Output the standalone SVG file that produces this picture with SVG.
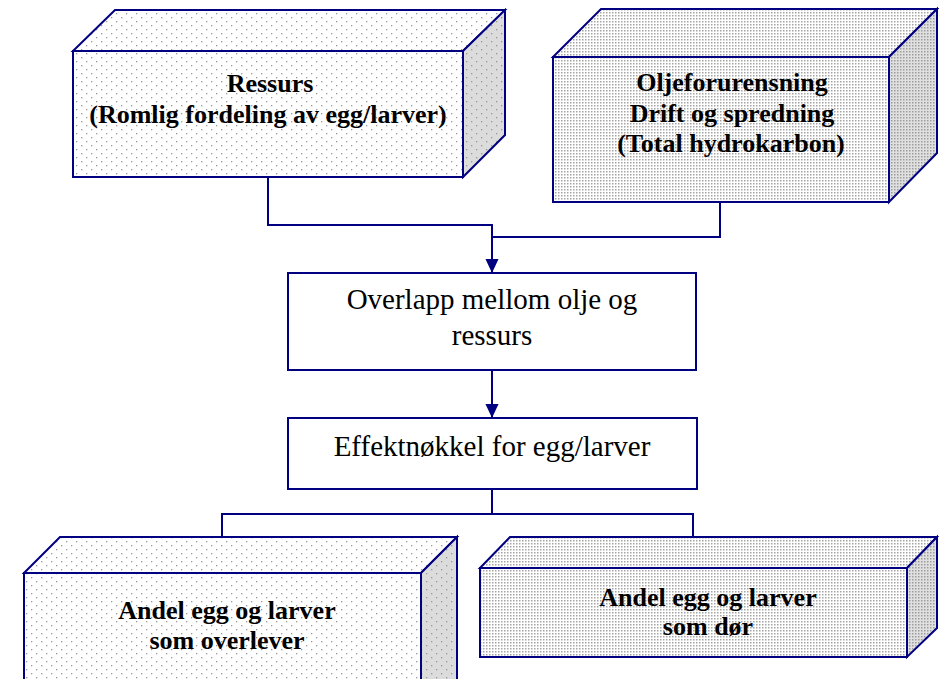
<svg xmlns="http://www.w3.org/2000/svg" width="939" height="679" viewBox="0 0 939 679">
<style>
.edge{fill:none;stroke:#000080;stroke-width:2}
.box{stroke:#000080;stroke-width:2;stroke-linejoin:miter}
.bt{font-family:"Liberation Serif","Times New Roman",serif;font-weight:bold;font-size:26px;fill:#000;text-anchor:middle}
.rt{font-family:"Liberation Serif","Times New Roman",serif;font-size:29px;fill:#000;text-anchor:middle}
</style>
<defs>
<pattern id="sparse" width="10" height="8" patternUnits="userSpaceOnUse">
<rect width="10" height="8" fill="#fff"/>
<rect x="1" y="1" width="1.3" height="1.3" fill="#999"/>
<rect x="6" y="5" width="1.3" height="1.3" fill="#999"/>
</pattern>
<pattern id="sparseSide" width="10" height="8" patternUnits="userSpaceOnUse">
<rect width="10" height="8" fill="#dcdcdc"/>
<rect x="1" y="1" width="1.3" height="1.3" fill="#999"/>
<rect x="6" y="5" width="1.3" height="1.3" fill="#999"/>
</pattern>
<pattern id="dense" width="3" height="3" patternUnits="userSpaceOnUse">
<rect width="3" height="3" fill="#fff"/>
<rect x="0" y="0" width="1.5" height="1.5" fill="#a4a4a4"/>
</pattern>
<pattern id="denseSide" width="3" height="3" patternUnits="userSpaceOnUse">
<rect width="3" height="3" fill="#e0e0e0"/>
<rect x="0" y="0" width="1.5" height="1.5" fill="#9c9c9c"/>
</pattern>
<marker id="ah" markerWidth="14" markerHeight="15" refX="15" refY="7" orient="auto" markerUnits="userSpaceOnUse" viewBox="0 0 15 14">
<path d="M0,0 L15,7 L0,14 Z" fill="#000080"/>
</marker>
</defs>

<g id="connectors">
<path class="edge" d="M268,178 V225 H492 V273" marker-end="url(#ah)"/>
<path class="edge" d="M720,202 V237 H492"/>
<path class="edge" d="M492,370 V418" marker-end="url(#ah)"/>
<path class="edge" d="M492,489 V514 H222 V573" marker-end="url(#ah)"/>
<path class="edge" d="M492,514 H693 V568" marker-end="url(#ah)"/>
</g>

<g id="ressurs">
<polygon class="box" points="73,51 115,10 505,10 463,51" fill="url(#sparse)"/>
<polygon class="box" points="463,51 505,10 505,135 463,177" fill="url(#sparseSide)"/>
<rect class="box" x="73" y="51" width="390" height="126" fill="url(#sparse)"/>
<text class="bt" x="270" y="92">Ressurs</text>
<text class="bt" x="268" y="123">(Romlig fordeling av egg/larver)</text>
</g>

<g id="olje">
<polygon class="box" points="553,57 601,9 937,9 889,57" fill="url(#dense)"/>
<polygon class="box" points="889,57 937,9 937,153 889,202" fill="url(#denseSide)"/>
<rect class="box" x="553" y="57" width="336" height="145" fill="url(#dense)"/>
<text class="bt" x="732" y="91">Oljeforurensning</text>
<text class="bt" x="732" y="122">Drift og spredning</text>
<text class="bt" x="731" y="152">(Total hydrokarbon)</text>
</g>

<g id="overlapp">
<rect class="box" x="288" y="273" width="408" height="97" fill="#fff"/>
<text class="rt" x="492" y="309">Overlapp mellom olje og</text>
<text class="rt" x="492" y="345">ressurs</text>
</g>

<g id="effekt">
<rect class="box" x="288" y="418" width="409" height="71" fill="#fff"/>
<text class="rt" x="492" y="456">Effektnøkkel for egg/larver</text>
</g>

<g id="overlever">
<polygon class="box" points="24,573 60,537 457,537 421,573" fill="url(#sparse)"/>
<polygon class="box" points="421,573 457,537 457,690 421,700" fill="url(#sparseSide)"/>
<rect class="box" x="24" y="573" width="397" height="130" fill="url(#sparse)"/>
<text class="bt" x="227" y="619">Andel egg og larver</text>
<text class="bt" x="227" y="649">som overlever</text>
</g>

<g id="dor">
<polygon class="box" points="480,568 510,537 937,537 907,568" fill="url(#dense)"/>
<polygon class="box" points="907,568 937,537 937,628 907,657" fill="url(#denseSide)"/>
<rect class="box" x="480" y="568" width="427" height="89" fill="url(#dense)"/>
<text class="bt" x="708" y="606">Andel egg og larver</text>
<text class="bt" x="708" y="635">som dør</text>
</g>
</svg>
